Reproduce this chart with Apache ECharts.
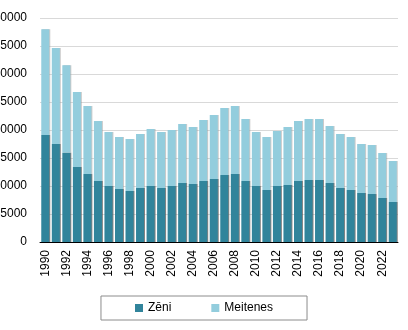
<!DOCTYPE html>
<html>
<head>
<meta charset="utf-8">
<script src="https://cdn.jsdelivr.net/npm/echarts@6/dist/echarts.min.js"></script>
<style>
  html, body { margin: 0; padding: 0; background: #ffffff; }
  #chart { width: 408px; height: 330px; }
</style>
</head>
<body>
<div id="chart"></div>
<script>
// Births per year, split by sex
const years = ['1990','1991','1992','1993','1994','1995','1996','1997','1998','1999',
  '2000','2001','2002','2003','2004','2005','2006','2007','2008','2009',
  '2010','2011','2012','2013','2014','2015','2016','2017','2018','2019',
  '2020','2021','2022','2023'];

const totals = [37980, 34640, 31550, 26790, 24290, 21600, 19640, 18750, 18390, 19290,
  20180, 19640, 20000, 21070, 20540, 21790, 22680, 23930, 24290, 21960,
  19640, 18750, 19820, 20540, 21610, 21960, 21960, 20710, 19290, 18750,
  17500, 17320, 15890, 14460];

const boys = [19110, 17500, 15950, 13390, 12140, 10890, 10000, 9460, 9110, 9640,
  10000, 9640, 10000, 10540, 10360, 10890, 11250, 11960, 12140, 10890,
  10000, 9290, 10000, 10180, 10890, 11070, 11070, 10540, 9640, 9290,
  8750, 8570, 7860, 7140];

const girls = totals.map((t, i) => t - boys[i]);

const yTicks = { min: 0, max: 40000, interval: 5000 };

const chart = echarts.init(document.getElementById('chart'), null, { renderer: 'canvas' });

const shadow = {
  shadowColor: 'rgba(90,90,90,0.75)',
  shadowBlur: 0,
  shadowOffsetX: 1,
  shadowOffsetY: 0
};

chart.setOption({
  animation: false,
  textStyle: { fontFamily: 'Liberation Sans, Arial, sans-serif' },
  grid: {
    left: 40, right: 10, top: 18, bottom: 88,
    containLabel: false,
    outerBoundsMode: 'none'
  },
  legend: {
    data: ['Zēni', 'Meitenes'],
    left: 'center',
    top: 296,
    padding: [6, 34, 6, 34],
    borderColor: '#8c8c8c',
    borderWidth: 1,
    itemGap: 40,
    itemWidth: 8,
    itemHeight: 8,
    icon: 'rect',
    textStyle: { fontSize: 12, color: '#000' }
  },
  xAxis: {
    type: 'category',
    data: years,
    axisLine: { show: true, lineStyle: { color: '#000', width: 1 } },
    axisTick: { show: false },
    axisLabel: {
      rotate: 90,
      interval: 1,
      fontSize: 12,
      color: '#000',
      margin: 8
    }
  },
  yAxis: {
    type: 'value',
    min: yTicks.min,
    max: yTicks.max,
    interval: yTicks.interval,
    axisLine: { show: false },
    axisTick: { show: false },
    axisLabel: {
      fontSize: 12, color: '#000', margin: 13,
      formatter: v => String(v)
    },
    splitLine: { lineStyle: { color: '#d9d9d9', width: 1 } }
  },
  series: [
    {
      name: 'Zēni',
      type: 'bar',
      stack: 'total',
      barWidth: 8,
      data: boys,
      itemStyle: Object.assign({ color: '#31849b' }, shadow)
    },
    {
      name: 'Meitenes',
      type: 'bar',
      stack: 'total',
      barWidth: 8,
      data: girls,
      itemStyle: Object.assign({ color: '#93cddd' }, shadow, { shadowColor: 'rgba(150,150,150,0.5)' })
    }
  ]
});
</script>
</body>
</html>
